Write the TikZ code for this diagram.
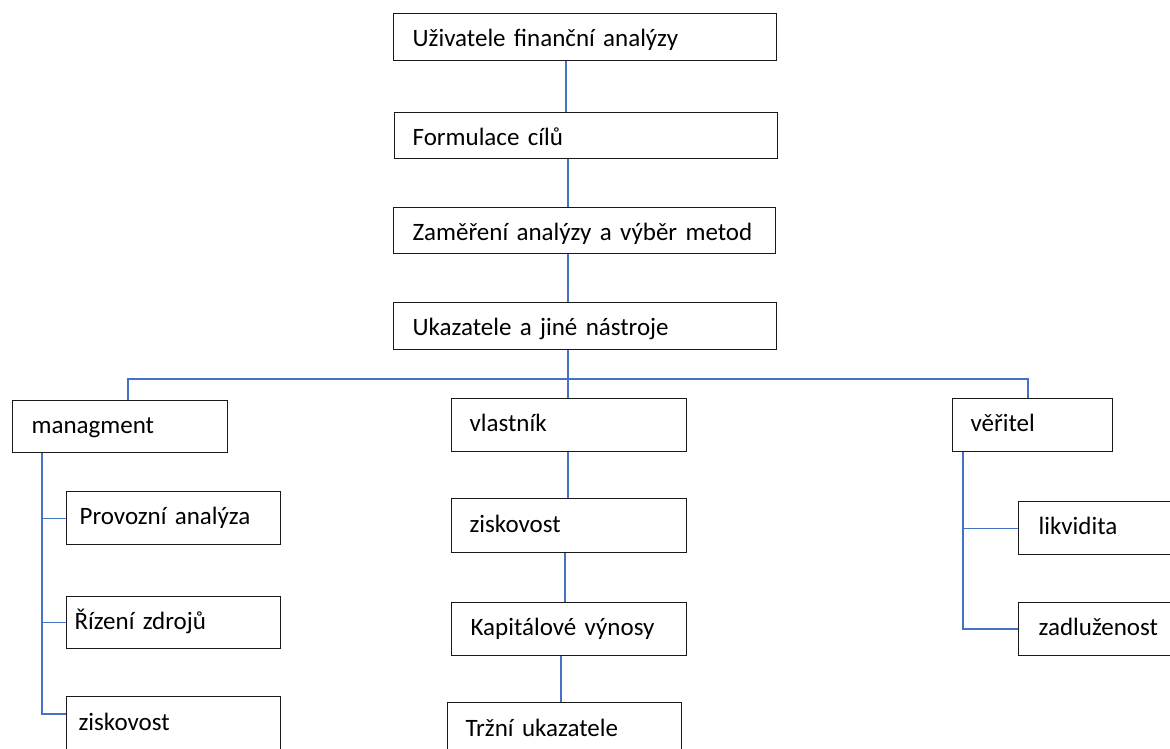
\documentclass[tikz,border=0pt]{standalone}
\usepackage{fontspec}
\setmainfont{Carlito}
\begin{document}
\begin{tikzpicture}[x=1pt,y=-1pt,
  box/.style={draw=black!90, line width=1.2pt, fill=white, anchor=north west, align=left,
    font=\fontsize{25}{29}\selectfont, inner ysep=0pt, text height=17pt, text depth=4pt},
  topbox/.style={box, text height=23pt, text depth=4pt},
  conn/.style={draw={rgb,255:red,68;green,114;blue,196}, line width=1.1pt}]
\useasboundingbox (0,0) rectangle (1170,749);
\clip (0,0) rectangle (1170,749);
% top chain
\node[topbox, minimum height=47pt, inner xsep=19pt, text width=345pt] (u1) at (393,13) {Uživatele finanční analýzy};
\node[topbox, minimum height=46pt, inner xsep=18pt, text width=347pt] (u2) at (394,112) {Formulace cílů};
\node[topbox, minimum height=46pt, inner xsep=19pt, text width=344pt] (u3) at (393,207) {Zaměření analýzy a výběr metod};
\node[topbox, minimum height=47pt, inner xsep=19pt, text width=345pt] (u4) at (393,302) {Ukazatele a jiné nástroje};
% second level
\node[box, minimum height=52pt, inner xsep=19pt, text width=177pt] (man) at (12,400) {managment};
\node[box, minimum height=53pt, inner xsep=18pt, text width=199pt] (vla) at (451,398) {vlastník};
\node[box, minimum height=53pt, inner xsep=18pt, text width=124pt] (ver) at (952,398) {věřitel};
% left branch
\node[box, minimum height=53pt, inner xsep=13pt, text width=188pt] (prov) at (66,491) {Provozní analýza};
\node[box, minimum height=52pt, inner xsep=8pt, text width=198pt] (riz) at (66,596) {Řízení zdrojů};
\node[box, minimum height=54pt, inner xsep=12pt, text width=190pt] (zisL) at (66,696) {ziskovost};
% middle branch
\node[box, minimum height=54pt, inner xsep=18pt, text width=199pt] (zisM) at (451,498) {ziskovost};
\node[box, minimum height=53pt, inner xsep=19pt, text width=197pt] (kap) at (451,602) {Kapitálové výnosy};
\node[box, minimum height=54pt, inner xsep=18pt, text width=198pt] (trz) at (447,702) {Tržní ukazatele};
% right branch
\node[box, minimum height=53pt, inner xsep=20pt, text width=140pt] (lik) at (1018,501) {likvidita};
\node[box, minimum height=53pt, inner xsep=20pt, text width=140pt] (zad) at (1018,602) {zadluženost};
% helper coordinates
\coordinate (t1) at (566,0);
\coordinate (t2) at (568,0);
\coordinate (t3) at (565,0);
\coordinate (t4) at (561,0);
\coordinate (bl) at (128,379);
\coordinate (br) at (1028,379);
\coordinate (lt) at (42,714);
\coordinate (rt) at (963,629);
% connectors
\draw[conn] (u1.south -| t1) -- (u2.north -| t1);
\draw[conn] (u2.south -| t2) -- (u3.north -| t2);
\draw[conn] (u3.south -| t2) -- (u4.north -| t2);
\draw[conn] (u4.south -| t2) -- (vla.north -| t2);
\draw[conn] (man.north -| bl) -- (bl) -- (br) -- (ver.north -| br);
\draw[conn] (man.south -| lt) -- (lt) -- (zisL.west |- lt);
\draw[conn] (prov.west -| lt) -- (prov.west);
\draw[conn] (riz.west -| lt) -- (riz.west);
\draw[conn] (vla.south -| t2) -- (zisM.north -| t2);
\draw[conn] (zisM.south -| t3) -- (kap.north -| t3);
\draw[conn] (kap.south -| t4) -- (trz.north -| t4);
\draw[conn] (ver.south -| rt) -- (rt) -- (zad.west |- rt);
\draw[conn] (lik.west -| rt) -- (lik.west);
\end{tikzpicture}
\end{document}
